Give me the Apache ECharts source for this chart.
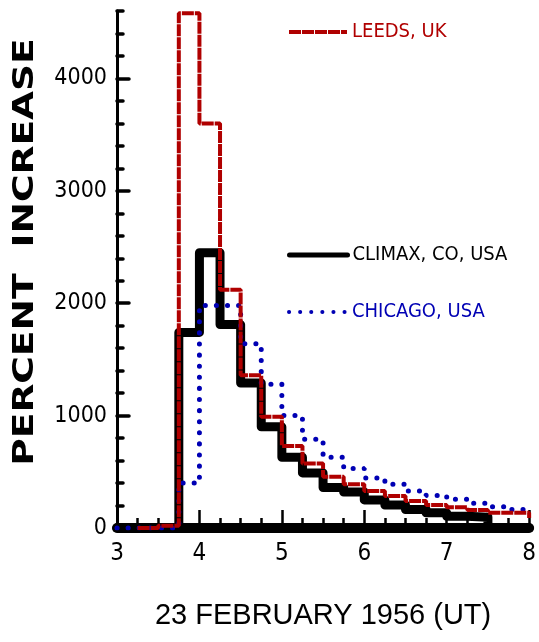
<!DOCTYPE html>
<html>
<head>
<meta charset="utf-8">
<script src="https://cdn.jsdelivr.net/npm/echarts@6/dist/echarts.min.js"></script>
<style>
html, body { margin: 0; padding: 0; background: #fff; }
#main { width: 539px; height: 642px; }
</style>
</head>
<body>
<div id="main"></div>
<script>
// hours UT on 23 Feb 1956, quarter-hour steps (value holds until next step)
var hours   = [3, 3.25, 3.5, 3.75, 4, 4.25, 4.5, 4.75, 5, 5.25, 5.5, 5.75, 6, 6.25, 6.5, 6.75, 7, 7.25, 7.5, 7.75, 8];
var leeds   = [null, 0, 20, 4580, 3600, 2120, 1360, 990, 730, 575, 455, 390, 330, 285, 240, 205, 185, 160, 135, 135, 90];
var climax  = [0, 0, 0, 1740, 2450, 1810, 1290, 900, 630, 490, 360, 320, 250, 205, 165, 135, 105, 95, 0, 0, 0];
var chicago = [0, 0, 0, 400, 1980, 1980, 1640, 1280, 1000, 790, 630, 530, 445, 390, 330, 290, 255, 220, 190, 165, 165];

var xMajor = [3, 4, 5, 6, 7, 8];
var yMajor = [0, 1000, 2000, 3000, 4000];

var RED = '#b00000', BLUE = '#0000b4';
var narrow = "'Liberation Sans Narrow', 'DejaVu Sans Condensed', sans-serif";

function pairs(arr) {
    return hours.map(function (h, i) { return [h, arr[i]]; });
}

function legendFor(name, top, color, lineWidth) {
    return {
        data: [name],
        left: 287,
        top: top,
        padding: 0,
        itemWidth: 58,
        itemHeight: 12,
        selectedMode: false,
        itemStyle: { opacity: 0 },
        lineStyle: { width: lineWidth },
        textStyle: { color: color, fontSize: 20, fontFamily: narrow }
    };
}

var myChart = echarts.init(document.getElementById('main'));
var option = {
    animation: false,
    backgroundColor: '#fff',
    grid: { left: 117, right: 6, top: 11, bottom: 114 },
    legend: [
        legendFor('LEEDS, UK', 22, RED, 4),
        legendFor('CLIMAX, CO, USA', 245, '#000', 5),
        legendFor('CHICAGO, USA', 302, BLUE, 4)
    ],
    xAxis: [{
        type: 'value', min: 3, max: 8, interval: 1, position: 'bottom',
        axisLine: { onZero: false, lineStyle: { color: '#000', width: 10, cap: 'round' } },
        axisTick: { inside: true, length: 18, customValues: xMajor, lineStyle: { color: '#000', width: 2.5 } },
        axisLabel: { customValues: xMajor, margin: 14, color: '#000', fontSize: 24, fontFamily: narrow },
        splitLine: { show: false },
        name: '23 FEBRUARY 1956 (UT)',
        nameLocation: 'middle',
        nameGap: 73,
        nameTextStyle: { color: '#000', fontSize: 29, fontFamily: 'Liberation Sans' }
    }, {
        type: 'value', min: 3, max: 8, interval: 0.25, position: 'bottom',
        axisLine: { show: false },
        axisTick: { inside: true, length: 10, lineStyle: { color: '#000', width: 2.5 } },
        axisLabel: { show: false },
        splitLine: { show: false }
    }],
    yAxis: [{
        type: 'value', min: 0, max: 4600, position: 'left',
        axisLine: { show: true, lineStyle: { color: '#000', width: 3 } },
        axisTick: { inside: true, length: 12, customValues: yMajor, lineStyle: { color: '#000', width: 3.5, cap: 'round' } },
        axisLabel: {
            customValues: yMajor, margin: 10, color: '#000', fontSize: 23, fontFamily: narrow,
            formatter: function (v) { return String(v); }
        },
        splitLine: { show: false }
    }, {
        type: 'value', min: 0, max: 4600, interval: 200, position: 'left',
        axisLine: { show: false },
        axisTick: { inside: true, length: 6, lineStyle: { color: '#000', width: 3.5, cap: 'round' } },
        axisLabel: { show: false },
        splitLine: { show: false }
    }],
    graphic: [{
        type: 'text',
        x: 26, y: 252,
        rotation: Math.PI / 2,
        scaleX: 1.34,
        style: {
            text: 'PERCENT  INCREASE',
            font: 'bold 28px "DejaVu Sans"',
            fill: '#000',
            align: 'center',
            verticalAlign: 'middle'
        }
    }],
    series: [{
        name: 'CLIMAX, CO, USA',
        type: 'line', step: 'end', symbol: 'none',
        data: pairs(climax),
        lineStyle: { color: '#000', width: 9, join: 'round', cap: 'round' },
        itemStyle: { color: '#000' }
    }, {
        name: 'CHICAGO, USA',
        type: 'line', step: 'end', symbol: 'none',
        data: pairs(chicago),
        lineStyle: { color: BLUE, width: 5, type: [0.1, 11], cap: 'round' },
        itemStyle: { color: BLUE }
    }, {
        name: 'LEEDS, UK',
        type: 'line', step: 'end', symbol: 'none',
        data: pairs(leeds),
        lineStyle: { color: RED, width: 4, type: [12, 1] },
        itemStyle: { color: RED }
    }]
};
myChart.setOption(option);
</script>
</body>
</html>
